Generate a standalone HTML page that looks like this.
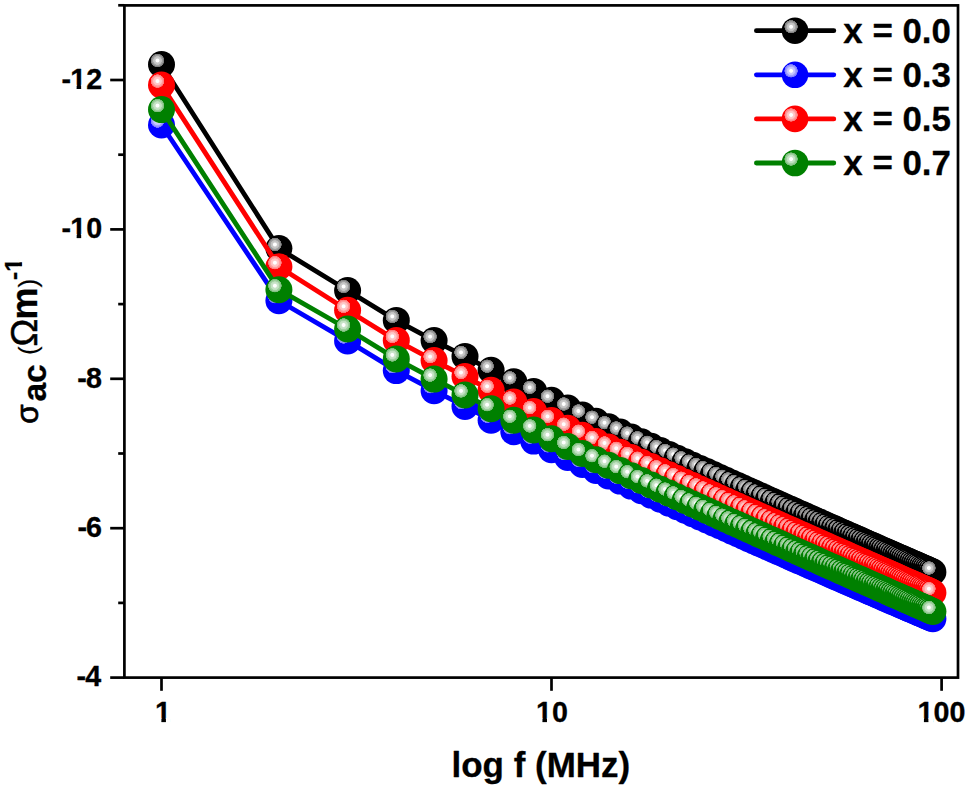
<!DOCTYPE html>
<html lang="en"><head><meta charset="utf-8"><title>AC conductivity vs log f</title>
<style>html,body{margin:0;padding:0;background:#fff}svg{display:block}text{font-family:"Liberation Sans",sans-serif;font-weight:bold;fill:#000;font-kerning:none}.rg{font-weight:normal}</style></head><body>
<svg width="968" height="790" viewBox="0 0 968 790">
<defs>
<radialGradient id="gk" cx="0.3519" cy="0.3519" r="0.2537" fx="0.3519" fy="0.3519"><stop offset="0" stop-color="#ffffff"/><stop offset="0.22" stop-color="#ffffff"/><stop offset="0.34" stop-color="#cccccc"/><stop offset="0.6" stop-color="#bfbfbf"/><stop offset="0.65" stop-color="#a3a3a3"/><stop offset="0.8" stop-color="#999999"/><stop offset="0.85" stop-color="#858585"/><stop offset="0.96" stop-color="#787878"/><stop offset="1.0" stop-color="#000000"/></radialGradient>
<radialGradient id="gb" cx="0.3519" cy="0.3519" r="0.2537" fx="0.3519" fy="0.3519"><stop offset="0" stop-color="#ffffff"/><stop offset="0.22" stop-color="#ffffff"/><stop offset="0.34" stop-color="#ccccff"/><stop offset="0.6" stop-color="#bfbfff"/><stop offset="0.65" stop-color="#a3a3ff"/><stop offset="0.8" stop-color="#9999ff"/><stop offset="0.85" stop-color="#8585ff"/><stop offset="0.96" stop-color="#7878ff"/><stop offset="1.0" stop-color="#0000ff"/></radialGradient>
<radialGradient id="gr" cx="0.3519" cy="0.3519" r="0.2537" fx="0.3519" fy="0.3519"><stop offset="0" stop-color="#ffffff"/><stop offset="0.22" stop-color="#ffffff"/><stop offset="0.34" stop-color="#ffcccc"/><stop offset="0.6" stop-color="#ffbfbf"/><stop offset="0.65" stop-color="#ffa3a3"/><stop offset="0.8" stop-color="#ff9999"/><stop offset="0.85" stop-color="#ff8585"/><stop offset="0.96" stop-color="#ff7878"/><stop offset="1.0" stop-color="#ff0000"/></radialGradient>
<radialGradient id="gg" cx="0.3519" cy="0.3519" r="0.2537" fx="0.3519" fy="0.3519"><stop offset="0" stop-color="#ffffff"/><stop offset="0.22" stop-color="#ffffff"/><stop offset="0.34" stop-color="#cce6cc"/><stop offset="0.6" stop-color="#bfdfbf"/><stop offset="0.65" stop-color="#a3d1a3"/><stop offset="0.8" stop-color="#99cc99"/><stop offset="0.85" stop-color="#85c285"/><stop offset="0.96" stop-color="#78bc78"/><stop offset="1.0" stop-color="#008000"/></radialGradient>
</defs>
<rect width="968" height="790" fill="#ffffff"/>
<g id="series-k">
<polyline fill="none" stroke="#000000" stroke-width="4.8" stroke-linejoin="round" points="161.5,64.5 278.9,248.5 347.6,290.5 396.3,320.4 434.1,340.6 465.0,356.4 491.1,370.2 513.8,381.8 533.7,391.4 551.5,400.2 567.7,408.0 582.4,415.0 596.0,421.2 608.5,426.7 620.2,432.0 631.2,437.1 641.4,441.8 651.1,446.3 660.3,450.5 669.0,454.4 677.2,458.2 685.1,461.8 692.6,465.2 699.9,468.5 706.8,471.6 713.4,474.6 719.8,477.5 726.0,480.3 731.9,483.0 737.7,485.6 743.2,488.1 748.6,490.5 753.8,492.8 758.9,495.1 763.8,497.3 768.5,499.4 773.2,501.5 777.7,503.5 782.1,505.5 786.4,507.4 790.6,509.3 794.6,511.1 798.6,512.9 802.5,514.6 806.3,516.3 810.1,518.0 813.7,519.6 817.3,521.2 820.8,522.7 824.2,524.2 827.5,525.7 830.8,527.2 834.1,528.6 837.2,530.0 840.3,531.4 843.4,532.7 846.4,534.1 849.3,535.4 852.2,536.6 855.1,537.9 857.9,539.1 860.6,540.3 863.3,541.5 866.0,542.7 868.6,543.9 871.2,545.0 873.8,546.1 876.3,547.2 878.7,548.3 881.2,549.4 883.6,550.4 886.0,551.5 888.3,552.5 890.6,553.5 892.9,554.5 895.1,555.5 897.3,556.4 899.5,557.4 901.7,558.3 903.8,559.3 905.9,560.2 908.0,561.1 910.0,562.0 912.1,562.9 914.1,563.8 916.1,564.6 918.0,565.5 919.9,566.3 921.9,567.2 923.8,568.0 925.6,568.8 927.5,569.6 929.3,570.4 931.1,571.2 932.9,572.0"/>
<circle cx="161.5" cy="64.5" r="13.5" fill="url(#gk)"/>
<circle cx="278.9" cy="248.5" r="13.5" fill="url(#gk)"/>
<circle cx="347.6" cy="290.5" r="13.5" fill="url(#gk)"/>
<circle cx="396.3" cy="320.4" r="13.5" fill="url(#gk)"/>
<circle cx="434.1" cy="340.6" r="13.5" fill="url(#gk)"/>
<circle cx="465.0" cy="356.4" r="13.5" fill="url(#gk)"/>
<circle cx="491.1" cy="370.2" r="13.5" fill="url(#gk)"/>
<circle cx="513.8" cy="381.8" r="13.5" fill="url(#gk)"/>
<circle cx="533.7" cy="391.4" r="13.5" fill="url(#gk)"/>
<circle cx="551.5" cy="400.2" r="13.5" fill="url(#gk)"/>
<circle cx="567.7" cy="408.0" r="13.5" fill="url(#gk)"/>
<circle cx="582.4" cy="415.0" r="13.5" fill="url(#gk)"/>
<circle cx="596.0" cy="421.2" r="13.5" fill="url(#gk)"/>
<circle cx="608.5" cy="426.7" r="13.5" fill="url(#gk)"/>
<circle cx="620.2" cy="432.0" r="13.5" fill="url(#gk)"/>
<circle cx="631.2" cy="437.1" r="13.5" fill="url(#gk)"/>
<circle cx="641.4" cy="441.8" r="13.5" fill="url(#gk)"/>
<circle cx="651.1" cy="446.3" r="13.5" fill="url(#gk)"/>
<circle cx="660.3" cy="450.5" r="13.5" fill="url(#gk)"/>
<circle cx="669.0" cy="454.4" r="13.5" fill="url(#gk)"/>
<circle cx="677.2" cy="458.2" r="13.5" fill="url(#gk)"/>
<circle cx="685.1" cy="461.8" r="13.5" fill="url(#gk)"/>
<circle cx="692.6" cy="465.2" r="13.5" fill="url(#gk)"/>
<circle cx="699.9" cy="468.5" r="13.5" fill="url(#gk)"/>
<circle cx="706.8" cy="471.6" r="13.5" fill="url(#gk)"/>
<circle cx="713.4" cy="474.6" r="13.5" fill="url(#gk)"/>
<circle cx="719.8" cy="477.5" r="13.5" fill="url(#gk)"/>
<circle cx="726.0" cy="480.3" r="13.5" fill="url(#gk)"/>
<circle cx="731.9" cy="483.0" r="13.5" fill="url(#gk)"/>
<circle cx="737.7" cy="485.6" r="13.5" fill="url(#gk)"/>
<circle cx="743.2" cy="488.1" r="13.5" fill="url(#gk)"/>
<circle cx="748.6" cy="490.5" r="13.5" fill="url(#gk)"/>
<circle cx="753.8" cy="492.8" r="13.5" fill="url(#gk)"/>
<circle cx="758.9" cy="495.1" r="13.5" fill="url(#gk)"/>
<circle cx="763.8" cy="497.3" r="13.5" fill="url(#gk)"/>
<circle cx="768.5" cy="499.4" r="13.5" fill="url(#gk)"/>
<circle cx="773.2" cy="501.5" r="13.5" fill="url(#gk)"/>
<circle cx="777.7" cy="503.5" r="13.5" fill="url(#gk)"/>
<circle cx="782.1" cy="505.5" r="13.5" fill="url(#gk)"/>
<circle cx="786.4" cy="507.4" r="13.5" fill="url(#gk)"/>
<circle cx="790.6" cy="509.3" r="13.5" fill="url(#gk)"/>
<circle cx="794.6" cy="511.1" r="13.5" fill="url(#gk)"/>
<circle cx="798.6" cy="512.9" r="13.5" fill="url(#gk)"/>
<circle cx="802.5" cy="514.6" r="13.5" fill="url(#gk)"/>
<circle cx="806.3" cy="516.3" r="13.5" fill="url(#gk)"/>
<circle cx="810.1" cy="518.0" r="13.5" fill="url(#gk)"/>
<circle cx="813.7" cy="519.6" r="13.5" fill="url(#gk)"/>
<circle cx="817.3" cy="521.2" r="13.5" fill="url(#gk)"/>
<circle cx="820.8" cy="522.7" r="13.5" fill="url(#gk)"/>
<circle cx="824.2" cy="524.2" r="13.5" fill="url(#gk)"/>
<circle cx="827.5" cy="525.7" r="13.5" fill="url(#gk)"/>
<circle cx="830.8" cy="527.2" r="13.5" fill="url(#gk)"/>
<circle cx="834.1" cy="528.6" r="13.5" fill="url(#gk)"/>
<circle cx="837.2" cy="530.0" r="13.5" fill="url(#gk)"/>
<circle cx="840.3" cy="531.4" r="13.5" fill="url(#gk)"/>
<circle cx="843.4" cy="532.7" r="13.5" fill="url(#gk)"/>
<circle cx="846.4" cy="534.1" r="13.5" fill="url(#gk)"/>
<circle cx="849.3" cy="535.4" r="13.5" fill="url(#gk)"/>
<circle cx="852.2" cy="536.6" r="13.5" fill="url(#gk)"/>
<circle cx="855.1" cy="537.9" r="13.5" fill="url(#gk)"/>
<circle cx="857.9" cy="539.1" r="13.5" fill="url(#gk)"/>
<circle cx="860.6" cy="540.3" r="13.5" fill="url(#gk)"/>
<circle cx="863.3" cy="541.5" r="13.5" fill="url(#gk)"/>
<circle cx="866.0" cy="542.7" r="13.5" fill="url(#gk)"/>
<circle cx="868.6" cy="543.9" r="13.5" fill="url(#gk)"/>
<circle cx="871.2" cy="545.0" r="13.5" fill="url(#gk)"/>
<circle cx="873.8" cy="546.1" r="13.5" fill="url(#gk)"/>
<circle cx="876.3" cy="547.2" r="13.5" fill="url(#gk)"/>
<circle cx="878.7" cy="548.3" r="13.5" fill="url(#gk)"/>
<circle cx="881.2" cy="549.4" r="13.5" fill="url(#gk)"/>
<circle cx="883.6" cy="550.4" r="13.5" fill="url(#gk)"/>
<circle cx="886.0" cy="551.5" r="13.5" fill="url(#gk)"/>
<circle cx="888.3" cy="552.5" r="13.5" fill="url(#gk)"/>
<circle cx="890.6" cy="553.5" r="13.5" fill="url(#gk)"/>
<circle cx="892.9" cy="554.5" r="13.5" fill="url(#gk)"/>
<circle cx="895.1" cy="555.5" r="13.5" fill="url(#gk)"/>
<circle cx="897.3" cy="556.4" r="13.5" fill="url(#gk)"/>
<circle cx="899.5" cy="557.4" r="13.5" fill="url(#gk)"/>
<circle cx="901.7" cy="558.3" r="13.5" fill="url(#gk)"/>
<circle cx="903.8" cy="559.3" r="13.5" fill="url(#gk)"/>
<circle cx="905.9" cy="560.2" r="13.5" fill="url(#gk)"/>
<circle cx="908.0" cy="561.1" r="13.5" fill="url(#gk)"/>
<circle cx="910.0" cy="562.0" r="13.5" fill="url(#gk)"/>
<circle cx="912.1" cy="562.9" r="13.5" fill="url(#gk)"/>
<circle cx="914.1" cy="563.8" r="13.5" fill="url(#gk)"/>
<circle cx="916.1" cy="564.6" r="13.5" fill="url(#gk)"/>
<circle cx="918.0" cy="565.5" r="13.5" fill="url(#gk)"/>
<circle cx="919.9" cy="566.3" r="13.5" fill="url(#gk)"/>
<circle cx="921.9" cy="567.2" r="13.5" fill="url(#gk)"/>
<circle cx="923.8" cy="568.0" r="13.5" fill="url(#gk)"/>
<circle cx="925.6" cy="568.8" r="13.5" fill="url(#gk)"/>
<circle cx="927.5" cy="569.6" r="13.5" fill="url(#gk)"/>
<circle cx="929.3" cy="570.4" r="13.5" fill="url(#gk)"/>
<circle cx="931.1" cy="571.2" r="13.5" fill="url(#gk)"/>
<circle cx="932.9" cy="572.0" r="13.5" fill="url(#gk)"/>
</g>
<g id="series-b">
<polyline fill="none" stroke="#0000ff" stroke-width="4.8" stroke-linejoin="round" points="161.5,125.0 278.9,300.7 347.6,340.9 396.3,370.6 434.1,390.7 465.0,406.4 491.1,420.2 513.8,431.7 533.7,441.1 551.5,449.8 567.7,457.5 582.4,464.4 596.0,470.5 608.5,475.9 620.2,481.1 631.2,486.1 641.4,490.7 651.1,495.1 660.3,499.2 669.0,503.1 677.2,506.8 685.1,510.3 692.6,513.7 699.9,516.9 706.8,520.0 713.4,523.0 719.8,525.8 726.0,528.5 731.9,531.2 737.7,533.7 743.2,536.2 748.6,538.6 753.8,540.9 758.9,543.1 763.8,545.3 768.5,547.4 773.2,549.4 777.7,551.4 782.1,553.3 786.4,555.2 790.6,557.1 794.6,558.9 798.6,560.6 802.5,562.3 806.3,564.0 810.1,565.6 813.7,567.2 817.3,568.8 820.8,570.3 824.2,571.8 827.5,573.3 830.8,574.7 834.1,576.1 837.2,577.5 840.3,578.8 843.4,580.2 846.4,581.5 849.3,582.7 852.2,584.0 855.1,585.2 857.9,586.4 860.6,587.6 863.3,588.8 866.0,590.0 868.6,591.1 871.2,592.2 873.8,593.3 876.3,594.4 878.7,595.5 881.2,596.5 883.6,597.6 886.0,598.6 888.3,599.6 890.6,600.6 892.9,601.6 895.1,602.5 897.3,603.5 899.5,604.4 901.7,605.4 903.8,606.3 905.9,607.2 908.0,608.1 910.0,609.0 912.1,609.8 914.1,610.7 916.1,611.5 918.0,612.4 919.9,613.2 921.9,614.0 923.8,614.8 925.6,615.6 927.5,616.4 929.3,617.2 931.1,618.0 932.9,618.8"/>
<circle cx="161.5" cy="125.0" r="13.5" fill="url(#gb)"/>
<circle cx="278.9" cy="300.7" r="13.5" fill="url(#gb)"/>
<circle cx="347.6" cy="340.9" r="13.5" fill="url(#gb)"/>
<circle cx="396.3" cy="370.6" r="13.5" fill="url(#gb)"/>
<circle cx="434.1" cy="390.7" r="13.5" fill="url(#gb)"/>
<circle cx="465.0" cy="406.4" r="13.5" fill="url(#gb)"/>
<circle cx="491.1" cy="420.2" r="13.5" fill="url(#gb)"/>
<circle cx="513.8" cy="431.7" r="13.5" fill="url(#gb)"/>
<circle cx="533.7" cy="441.1" r="13.5" fill="url(#gb)"/>
<circle cx="551.5" cy="449.8" r="13.5" fill="url(#gb)"/>
<circle cx="567.7" cy="457.5" r="13.5" fill="url(#gb)"/>
<circle cx="582.4" cy="464.4" r="13.5" fill="url(#gb)"/>
<circle cx="596.0" cy="470.5" r="13.5" fill="url(#gb)"/>
<circle cx="608.5" cy="475.9" r="13.5" fill="url(#gb)"/>
<circle cx="620.2" cy="481.1" r="13.5" fill="url(#gb)"/>
<circle cx="631.2" cy="486.1" r="13.5" fill="url(#gb)"/>
<circle cx="641.4" cy="490.7" r="13.5" fill="url(#gb)"/>
<circle cx="651.1" cy="495.1" r="13.5" fill="url(#gb)"/>
<circle cx="660.3" cy="499.2" r="13.5" fill="url(#gb)"/>
<circle cx="669.0" cy="503.1" r="13.5" fill="url(#gb)"/>
<circle cx="677.2" cy="506.8" r="13.5" fill="url(#gb)"/>
<circle cx="685.1" cy="510.3" r="13.5" fill="url(#gb)"/>
<circle cx="692.6" cy="513.7" r="13.5" fill="url(#gb)"/>
<circle cx="699.9" cy="516.9" r="13.5" fill="url(#gb)"/>
<circle cx="706.8" cy="520.0" r="13.5" fill="url(#gb)"/>
<circle cx="713.4" cy="523.0" r="13.5" fill="url(#gb)"/>
<circle cx="719.8" cy="525.8" r="13.5" fill="url(#gb)"/>
<circle cx="726.0" cy="528.5" r="13.5" fill="url(#gb)"/>
<circle cx="731.9" cy="531.2" r="13.5" fill="url(#gb)"/>
<circle cx="737.7" cy="533.7" r="13.5" fill="url(#gb)"/>
<circle cx="743.2" cy="536.2" r="13.5" fill="url(#gb)"/>
<circle cx="748.6" cy="538.6" r="13.5" fill="url(#gb)"/>
<circle cx="753.8" cy="540.9" r="13.5" fill="url(#gb)"/>
<circle cx="758.9" cy="543.1" r="13.5" fill="url(#gb)"/>
<circle cx="763.8" cy="545.3" r="13.5" fill="url(#gb)"/>
<circle cx="768.5" cy="547.4" r="13.5" fill="url(#gb)"/>
<circle cx="773.2" cy="549.4" r="13.5" fill="url(#gb)"/>
<circle cx="777.7" cy="551.4" r="13.5" fill="url(#gb)"/>
<circle cx="782.1" cy="553.3" r="13.5" fill="url(#gb)"/>
<circle cx="786.4" cy="555.2" r="13.5" fill="url(#gb)"/>
<circle cx="790.6" cy="557.1" r="13.5" fill="url(#gb)"/>
<circle cx="794.6" cy="558.9" r="13.5" fill="url(#gb)"/>
<circle cx="798.6" cy="560.6" r="13.5" fill="url(#gb)"/>
<circle cx="802.5" cy="562.3" r="13.5" fill="url(#gb)"/>
<circle cx="806.3" cy="564.0" r="13.5" fill="url(#gb)"/>
<circle cx="810.1" cy="565.6" r="13.5" fill="url(#gb)"/>
<circle cx="813.7" cy="567.2" r="13.5" fill="url(#gb)"/>
<circle cx="817.3" cy="568.8" r="13.5" fill="url(#gb)"/>
<circle cx="820.8" cy="570.3" r="13.5" fill="url(#gb)"/>
<circle cx="824.2" cy="571.8" r="13.5" fill="url(#gb)"/>
<circle cx="827.5" cy="573.3" r="13.5" fill="url(#gb)"/>
<circle cx="830.8" cy="574.7" r="13.5" fill="url(#gb)"/>
<circle cx="834.1" cy="576.1" r="13.5" fill="url(#gb)"/>
<circle cx="837.2" cy="577.5" r="13.5" fill="url(#gb)"/>
<circle cx="840.3" cy="578.8" r="13.5" fill="url(#gb)"/>
<circle cx="843.4" cy="580.2" r="13.5" fill="url(#gb)"/>
<circle cx="846.4" cy="581.5" r="13.5" fill="url(#gb)"/>
<circle cx="849.3" cy="582.7" r="13.5" fill="url(#gb)"/>
<circle cx="852.2" cy="584.0" r="13.5" fill="url(#gb)"/>
<circle cx="855.1" cy="585.2" r="13.5" fill="url(#gb)"/>
<circle cx="857.9" cy="586.4" r="13.5" fill="url(#gb)"/>
<circle cx="860.6" cy="587.6" r="13.5" fill="url(#gb)"/>
<circle cx="863.3" cy="588.8" r="13.5" fill="url(#gb)"/>
<circle cx="866.0" cy="590.0" r="13.5" fill="url(#gb)"/>
<circle cx="868.6" cy="591.1" r="13.5" fill="url(#gb)"/>
<circle cx="871.2" cy="592.2" r="13.5" fill="url(#gb)"/>
<circle cx="873.8" cy="593.3" r="13.5" fill="url(#gb)"/>
<circle cx="876.3" cy="594.4" r="13.5" fill="url(#gb)"/>
<circle cx="878.7" cy="595.5" r="13.5" fill="url(#gb)"/>
<circle cx="881.2" cy="596.5" r="13.5" fill="url(#gb)"/>
<circle cx="883.6" cy="597.6" r="13.5" fill="url(#gb)"/>
<circle cx="886.0" cy="598.6" r="13.5" fill="url(#gb)"/>
<circle cx="888.3" cy="599.6" r="13.5" fill="url(#gb)"/>
<circle cx="890.6" cy="600.6" r="13.5" fill="url(#gb)"/>
<circle cx="892.9" cy="601.6" r="13.5" fill="url(#gb)"/>
<circle cx="895.1" cy="602.5" r="13.5" fill="url(#gb)"/>
<circle cx="897.3" cy="603.5" r="13.5" fill="url(#gb)"/>
<circle cx="899.5" cy="604.4" r="13.5" fill="url(#gb)"/>
<circle cx="901.7" cy="605.4" r="13.5" fill="url(#gb)"/>
<circle cx="903.8" cy="606.3" r="13.5" fill="url(#gb)"/>
<circle cx="905.9" cy="607.2" r="13.5" fill="url(#gb)"/>
<circle cx="908.0" cy="608.1" r="13.5" fill="url(#gb)"/>
<circle cx="910.0" cy="609.0" r="13.5" fill="url(#gb)"/>
<circle cx="912.1" cy="609.8" r="13.5" fill="url(#gb)"/>
<circle cx="914.1" cy="610.7" r="13.5" fill="url(#gb)"/>
<circle cx="916.1" cy="611.5" r="13.5" fill="url(#gb)"/>
<circle cx="918.0" cy="612.4" r="13.5" fill="url(#gb)"/>
<circle cx="919.9" cy="613.2" r="13.5" fill="url(#gb)"/>
<circle cx="921.9" cy="614.0" r="13.5" fill="url(#gb)"/>
<circle cx="923.8" cy="614.8" r="13.5" fill="url(#gb)"/>
<circle cx="925.6" cy="615.6" r="13.5" fill="url(#gb)"/>
<circle cx="927.5" cy="616.4" r="13.5" fill="url(#gb)"/>
<circle cx="929.3" cy="617.2" r="13.5" fill="url(#gb)"/>
<circle cx="931.1" cy="618.0" r="13.5" fill="url(#gb)"/>
<circle cx="932.9" cy="618.8" r="13.5" fill="url(#gb)"/>
</g>
<g id="series-r">
<polyline fill="none" stroke="#ff0000" stroke-width="4.8" stroke-linejoin="round" points="161.5,85.1 278.9,266.7 347.6,310.3 396.3,340.4 434.1,360.6 465.0,376.5 491.1,390.3 513.8,402.0 533.7,411.6 551.5,420.4 567.7,428.2 582.4,435.2 596.0,441.5 608.5,447.0 620.2,452.3 631.2,457.4 641.4,462.2 651.1,466.6 660.3,470.8 669.0,474.8 677.2,478.6 685.1,482.2 692.6,485.6 699.9,488.9 706.8,492.0 713.4,495.0 719.8,497.9 726.0,500.7 731.9,503.4 737.7,506.0 743.2,508.5 748.6,510.9 753.8,513.3 758.9,515.6 763.8,517.8 768.5,519.9 773.2,522.0 777.7,524.0 782.1,526.0 786.4,527.9 790.6,529.8 794.6,531.6 798.6,533.4 802.5,535.1 806.3,536.8 810.1,538.5 813.7,540.1 817.3,541.7 820.8,543.3 824.2,544.8 827.5,546.3 830.8,547.7 834.1,549.2 837.2,550.6 840.3,552.0 843.4,553.3 846.4,554.6 849.3,555.9 852.2,557.2 855.1,558.5 857.9,559.7 860.6,560.9 863.3,562.1 866.0,563.3 868.6,564.5 871.2,565.6 873.8,566.7 876.3,567.8 878.7,568.9 881.2,570.0 883.6,571.1 886.0,572.1 888.3,573.1 890.6,574.1 892.9,575.1 895.1,576.1 897.3,577.1 899.5,578.1 901.7,579.0 903.8,579.9 905.9,580.9 908.0,581.8 910.0,582.7 912.1,583.6 914.1,584.4 916.1,585.3 918.0,586.2 919.9,587.0 921.9,587.8 923.8,588.7 925.6,589.5 927.5,590.3 929.3,591.1 931.1,591.9 932.9,592.7"/>
<circle cx="161.5" cy="85.1" r="13.5" fill="url(#gr)"/>
<circle cx="278.9" cy="266.7" r="13.5" fill="url(#gr)"/>
<circle cx="347.6" cy="310.3" r="13.5" fill="url(#gr)"/>
<circle cx="396.3" cy="340.4" r="13.5" fill="url(#gr)"/>
<circle cx="434.1" cy="360.6" r="13.5" fill="url(#gr)"/>
<circle cx="465.0" cy="376.5" r="13.5" fill="url(#gr)"/>
<circle cx="491.1" cy="390.3" r="13.5" fill="url(#gr)"/>
<circle cx="513.8" cy="402.0" r="13.5" fill="url(#gr)"/>
<circle cx="533.7" cy="411.6" r="13.5" fill="url(#gr)"/>
<circle cx="551.5" cy="420.4" r="13.5" fill="url(#gr)"/>
<circle cx="567.7" cy="428.2" r="13.5" fill="url(#gr)"/>
<circle cx="582.4" cy="435.2" r="13.5" fill="url(#gr)"/>
<circle cx="596.0" cy="441.5" r="13.5" fill="url(#gr)"/>
<circle cx="608.5" cy="447.0" r="13.5" fill="url(#gr)"/>
<circle cx="620.2" cy="452.3" r="13.5" fill="url(#gr)"/>
<circle cx="631.2" cy="457.4" r="13.5" fill="url(#gr)"/>
<circle cx="641.4" cy="462.2" r="13.5" fill="url(#gr)"/>
<circle cx="651.1" cy="466.6" r="13.5" fill="url(#gr)"/>
<circle cx="660.3" cy="470.8" r="13.5" fill="url(#gr)"/>
<circle cx="669.0" cy="474.8" r="13.5" fill="url(#gr)"/>
<circle cx="677.2" cy="478.6" r="13.5" fill="url(#gr)"/>
<circle cx="685.1" cy="482.2" r="13.5" fill="url(#gr)"/>
<circle cx="692.6" cy="485.6" r="13.5" fill="url(#gr)"/>
<circle cx="699.9" cy="488.9" r="13.5" fill="url(#gr)"/>
<circle cx="706.8" cy="492.0" r="13.5" fill="url(#gr)"/>
<circle cx="713.4" cy="495.0" r="13.5" fill="url(#gr)"/>
<circle cx="719.8" cy="497.9" r="13.5" fill="url(#gr)"/>
<circle cx="726.0" cy="500.7" r="13.5" fill="url(#gr)"/>
<circle cx="731.9" cy="503.4" r="13.5" fill="url(#gr)"/>
<circle cx="737.7" cy="506.0" r="13.5" fill="url(#gr)"/>
<circle cx="743.2" cy="508.5" r="13.5" fill="url(#gr)"/>
<circle cx="748.6" cy="510.9" r="13.5" fill="url(#gr)"/>
<circle cx="753.8" cy="513.3" r="13.5" fill="url(#gr)"/>
<circle cx="758.9" cy="515.6" r="13.5" fill="url(#gr)"/>
<circle cx="763.8" cy="517.8" r="13.5" fill="url(#gr)"/>
<circle cx="768.5" cy="519.9" r="13.5" fill="url(#gr)"/>
<circle cx="773.2" cy="522.0" r="13.5" fill="url(#gr)"/>
<circle cx="777.7" cy="524.0" r="13.5" fill="url(#gr)"/>
<circle cx="782.1" cy="526.0" r="13.5" fill="url(#gr)"/>
<circle cx="786.4" cy="527.9" r="13.5" fill="url(#gr)"/>
<circle cx="790.6" cy="529.8" r="13.5" fill="url(#gr)"/>
<circle cx="794.6" cy="531.6" r="13.5" fill="url(#gr)"/>
<circle cx="798.6" cy="533.4" r="13.5" fill="url(#gr)"/>
<circle cx="802.5" cy="535.1" r="13.5" fill="url(#gr)"/>
<circle cx="806.3" cy="536.8" r="13.5" fill="url(#gr)"/>
<circle cx="810.1" cy="538.5" r="13.5" fill="url(#gr)"/>
<circle cx="813.7" cy="540.1" r="13.5" fill="url(#gr)"/>
<circle cx="817.3" cy="541.7" r="13.5" fill="url(#gr)"/>
<circle cx="820.8" cy="543.3" r="13.5" fill="url(#gr)"/>
<circle cx="824.2" cy="544.8" r="13.5" fill="url(#gr)"/>
<circle cx="827.5" cy="546.3" r="13.5" fill="url(#gr)"/>
<circle cx="830.8" cy="547.7" r="13.5" fill="url(#gr)"/>
<circle cx="834.1" cy="549.2" r="13.5" fill="url(#gr)"/>
<circle cx="837.2" cy="550.6" r="13.5" fill="url(#gr)"/>
<circle cx="840.3" cy="552.0" r="13.5" fill="url(#gr)"/>
<circle cx="843.4" cy="553.3" r="13.5" fill="url(#gr)"/>
<circle cx="846.4" cy="554.6" r="13.5" fill="url(#gr)"/>
<circle cx="849.3" cy="555.9" r="13.5" fill="url(#gr)"/>
<circle cx="852.2" cy="557.2" r="13.5" fill="url(#gr)"/>
<circle cx="855.1" cy="558.5" r="13.5" fill="url(#gr)"/>
<circle cx="857.9" cy="559.7" r="13.5" fill="url(#gr)"/>
<circle cx="860.6" cy="560.9" r="13.5" fill="url(#gr)"/>
<circle cx="863.3" cy="562.1" r="13.5" fill="url(#gr)"/>
<circle cx="866.0" cy="563.3" r="13.5" fill="url(#gr)"/>
<circle cx="868.6" cy="564.5" r="13.5" fill="url(#gr)"/>
<circle cx="871.2" cy="565.6" r="13.5" fill="url(#gr)"/>
<circle cx="873.8" cy="566.7" r="13.5" fill="url(#gr)"/>
<circle cx="876.3" cy="567.8" r="13.5" fill="url(#gr)"/>
<circle cx="878.7" cy="568.9" r="13.5" fill="url(#gr)"/>
<circle cx="881.2" cy="570.0" r="13.5" fill="url(#gr)"/>
<circle cx="883.6" cy="571.1" r="13.5" fill="url(#gr)"/>
<circle cx="886.0" cy="572.1" r="13.5" fill="url(#gr)"/>
<circle cx="888.3" cy="573.1" r="13.5" fill="url(#gr)"/>
<circle cx="890.6" cy="574.1" r="13.5" fill="url(#gr)"/>
<circle cx="892.9" cy="575.1" r="13.5" fill="url(#gr)"/>
<circle cx="895.1" cy="576.1" r="13.5" fill="url(#gr)"/>
<circle cx="897.3" cy="577.1" r="13.5" fill="url(#gr)"/>
<circle cx="899.5" cy="578.1" r="13.5" fill="url(#gr)"/>
<circle cx="901.7" cy="579.0" r="13.5" fill="url(#gr)"/>
<circle cx="903.8" cy="579.9" r="13.5" fill="url(#gr)"/>
<circle cx="905.9" cy="580.9" r="13.5" fill="url(#gr)"/>
<circle cx="908.0" cy="581.8" r="13.5" fill="url(#gr)"/>
<circle cx="910.0" cy="582.7" r="13.5" fill="url(#gr)"/>
<circle cx="912.1" cy="583.6" r="13.5" fill="url(#gr)"/>
<circle cx="914.1" cy="584.4" r="13.5" fill="url(#gr)"/>
<circle cx="916.1" cy="585.3" r="13.5" fill="url(#gr)"/>
<circle cx="918.0" cy="586.2" r="13.5" fill="url(#gr)"/>
<circle cx="919.9" cy="587.0" r="13.5" fill="url(#gr)"/>
<circle cx="921.9" cy="587.8" r="13.5" fill="url(#gr)"/>
<circle cx="923.8" cy="588.7" r="13.5" fill="url(#gr)"/>
<circle cx="925.6" cy="589.5" r="13.5" fill="url(#gr)"/>
<circle cx="927.5" cy="590.3" r="13.5" fill="url(#gr)"/>
<circle cx="929.3" cy="591.1" r="13.5" fill="url(#gr)"/>
<circle cx="931.1" cy="591.9" r="13.5" fill="url(#gr)"/>
<circle cx="932.9" cy="592.7" r="13.5" fill="url(#gr)"/>
</g>
<g id="series-g">
<polyline fill="none" stroke="#008000" stroke-width="4.8" stroke-linejoin="round" points="161.5,109.6 278.9,289.7 347.6,329.0 396.3,358.9 434.1,379.1 465.0,394.9 491.1,408.7 513.8,420.3 533.7,429.9 551.5,438.7 567.7,446.5 582.4,453.5 596.0,459.7 608.5,465.2 620.2,470.6 631.2,475.7 641.4,480.5 651.1,484.9 660.3,489.2 669.0,493.1 677.2,496.9 685.1,500.5 692.6,504.0 699.9,507.3 706.8,510.4 713.4,513.5 719.8,516.4 726.0,519.2 731.9,521.9 737.7,524.5 743.2,527.0 748.6,529.4 753.8,531.8 758.9,534.1 763.8,536.3 768.5,538.4 773.2,540.5 777.7,542.6 782.1,544.5 786.4,546.5 790.6,548.4 794.6,550.2 798.6,552.0 802.5,553.7 806.3,555.4 810.1,557.1 813.7,558.7 817.3,560.3 820.8,561.9 824.2,563.4 827.5,564.9 830.8,566.4 834.1,567.8 837.2,569.2 840.3,570.6 843.4,572.0 846.4,573.3 849.3,574.6 852.2,575.9 855.1,577.2 857.9,578.4 860.6,579.6 863.3,580.8 866.0,582.0 868.6,583.2 871.2,584.3 873.8,585.4 876.3,586.5 878.7,587.6 881.2,588.7 883.6,589.8 886.0,590.8 888.3,591.9 890.6,592.9 892.9,593.9 895.1,594.9 897.3,595.8 899.5,596.8 901.7,597.8 903.8,598.7 905.9,599.6 908.0,600.5 910.0,601.4 912.1,602.3 914.1,603.2 916.1,604.1 918.0,604.9 919.9,605.8 921.9,606.6 923.8,607.5 925.6,608.3 927.5,609.1 929.3,609.9 931.1,610.7 932.9,611.5"/>
<circle cx="161.5" cy="109.6" r="13.5" fill="url(#gg)"/>
<circle cx="278.9" cy="289.7" r="13.5" fill="url(#gg)"/>
<circle cx="347.6" cy="329.0" r="13.5" fill="url(#gg)"/>
<circle cx="396.3" cy="358.9" r="13.5" fill="url(#gg)"/>
<circle cx="434.1" cy="379.1" r="13.5" fill="url(#gg)"/>
<circle cx="465.0" cy="394.9" r="13.5" fill="url(#gg)"/>
<circle cx="491.1" cy="408.7" r="13.5" fill="url(#gg)"/>
<circle cx="513.8" cy="420.3" r="13.5" fill="url(#gg)"/>
<circle cx="533.7" cy="429.9" r="13.5" fill="url(#gg)"/>
<circle cx="551.5" cy="438.7" r="13.5" fill="url(#gg)"/>
<circle cx="567.7" cy="446.5" r="13.5" fill="url(#gg)"/>
<circle cx="582.4" cy="453.5" r="13.5" fill="url(#gg)"/>
<circle cx="596.0" cy="459.7" r="13.5" fill="url(#gg)"/>
<circle cx="608.5" cy="465.2" r="13.5" fill="url(#gg)"/>
<circle cx="620.2" cy="470.6" r="13.5" fill="url(#gg)"/>
<circle cx="631.2" cy="475.7" r="13.5" fill="url(#gg)"/>
<circle cx="641.4" cy="480.5" r="13.5" fill="url(#gg)"/>
<circle cx="651.1" cy="484.9" r="13.5" fill="url(#gg)"/>
<circle cx="660.3" cy="489.2" r="13.5" fill="url(#gg)"/>
<circle cx="669.0" cy="493.1" r="13.5" fill="url(#gg)"/>
<circle cx="677.2" cy="496.9" r="13.5" fill="url(#gg)"/>
<circle cx="685.1" cy="500.5" r="13.5" fill="url(#gg)"/>
<circle cx="692.6" cy="504.0" r="13.5" fill="url(#gg)"/>
<circle cx="699.9" cy="507.3" r="13.5" fill="url(#gg)"/>
<circle cx="706.8" cy="510.4" r="13.5" fill="url(#gg)"/>
<circle cx="713.4" cy="513.5" r="13.5" fill="url(#gg)"/>
<circle cx="719.8" cy="516.4" r="13.5" fill="url(#gg)"/>
<circle cx="726.0" cy="519.2" r="13.5" fill="url(#gg)"/>
<circle cx="731.9" cy="521.9" r="13.5" fill="url(#gg)"/>
<circle cx="737.7" cy="524.5" r="13.5" fill="url(#gg)"/>
<circle cx="743.2" cy="527.0" r="13.5" fill="url(#gg)"/>
<circle cx="748.6" cy="529.4" r="13.5" fill="url(#gg)"/>
<circle cx="753.8" cy="531.8" r="13.5" fill="url(#gg)"/>
<circle cx="758.9" cy="534.1" r="13.5" fill="url(#gg)"/>
<circle cx="763.8" cy="536.3" r="13.5" fill="url(#gg)"/>
<circle cx="768.5" cy="538.4" r="13.5" fill="url(#gg)"/>
<circle cx="773.2" cy="540.5" r="13.5" fill="url(#gg)"/>
<circle cx="777.7" cy="542.6" r="13.5" fill="url(#gg)"/>
<circle cx="782.1" cy="544.5" r="13.5" fill="url(#gg)"/>
<circle cx="786.4" cy="546.5" r="13.5" fill="url(#gg)"/>
<circle cx="790.6" cy="548.4" r="13.5" fill="url(#gg)"/>
<circle cx="794.6" cy="550.2" r="13.5" fill="url(#gg)"/>
<circle cx="798.6" cy="552.0" r="13.5" fill="url(#gg)"/>
<circle cx="802.5" cy="553.7" r="13.5" fill="url(#gg)"/>
<circle cx="806.3" cy="555.4" r="13.5" fill="url(#gg)"/>
<circle cx="810.1" cy="557.1" r="13.5" fill="url(#gg)"/>
<circle cx="813.7" cy="558.7" r="13.5" fill="url(#gg)"/>
<circle cx="817.3" cy="560.3" r="13.5" fill="url(#gg)"/>
<circle cx="820.8" cy="561.9" r="13.5" fill="url(#gg)"/>
<circle cx="824.2" cy="563.4" r="13.5" fill="url(#gg)"/>
<circle cx="827.5" cy="564.9" r="13.5" fill="url(#gg)"/>
<circle cx="830.8" cy="566.4" r="13.5" fill="url(#gg)"/>
<circle cx="834.1" cy="567.8" r="13.5" fill="url(#gg)"/>
<circle cx="837.2" cy="569.2" r="13.5" fill="url(#gg)"/>
<circle cx="840.3" cy="570.6" r="13.5" fill="url(#gg)"/>
<circle cx="843.4" cy="572.0" r="13.5" fill="url(#gg)"/>
<circle cx="846.4" cy="573.3" r="13.5" fill="url(#gg)"/>
<circle cx="849.3" cy="574.6" r="13.5" fill="url(#gg)"/>
<circle cx="852.2" cy="575.9" r="13.5" fill="url(#gg)"/>
<circle cx="855.1" cy="577.2" r="13.5" fill="url(#gg)"/>
<circle cx="857.9" cy="578.4" r="13.5" fill="url(#gg)"/>
<circle cx="860.6" cy="579.6" r="13.5" fill="url(#gg)"/>
<circle cx="863.3" cy="580.8" r="13.5" fill="url(#gg)"/>
<circle cx="866.0" cy="582.0" r="13.5" fill="url(#gg)"/>
<circle cx="868.6" cy="583.2" r="13.5" fill="url(#gg)"/>
<circle cx="871.2" cy="584.3" r="13.5" fill="url(#gg)"/>
<circle cx="873.8" cy="585.4" r="13.5" fill="url(#gg)"/>
<circle cx="876.3" cy="586.5" r="13.5" fill="url(#gg)"/>
<circle cx="878.7" cy="587.6" r="13.5" fill="url(#gg)"/>
<circle cx="881.2" cy="588.7" r="13.5" fill="url(#gg)"/>
<circle cx="883.6" cy="589.8" r="13.5" fill="url(#gg)"/>
<circle cx="886.0" cy="590.8" r="13.5" fill="url(#gg)"/>
<circle cx="888.3" cy="591.9" r="13.5" fill="url(#gg)"/>
<circle cx="890.6" cy="592.9" r="13.5" fill="url(#gg)"/>
<circle cx="892.9" cy="593.9" r="13.5" fill="url(#gg)"/>
<circle cx="895.1" cy="594.9" r="13.5" fill="url(#gg)"/>
<circle cx="897.3" cy="595.8" r="13.5" fill="url(#gg)"/>
<circle cx="899.5" cy="596.8" r="13.5" fill="url(#gg)"/>
<circle cx="901.7" cy="597.8" r="13.5" fill="url(#gg)"/>
<circle cx="903.8" cy="598.7" r="13.5" fill="url(#gg)"/>
<circle cx="905.9" cy="599.6" r="13.5" fill="url(#gg)"/>
<circle cx="908.0" cy="600.5" r="13.5" fill="url(#gg)"/>
<circle cx="910.0" cy="601.4" r="13.5" fill="url(#gg)"/>
<circle cx="912.1" cy="602.3" r="13.5" fill="url(#gg)"/>
<circle cx="914.1" cy="603.2" r="13.5" fill="url(#gg)"/>
<circle cx="916.1" cy="604.1" r="13.5" fill="url(#gg)"/>
<circle cx="918.0" cy="604.9" r="13.5" fill="url(#gg)"/>
<circle cx="919.9" cy="605.8" r="13.5" fill="url(#gg)"/>
<circle cx="921.9" cy="606.6" r="13.5" fill="url(#gg)"/>
<circle cx="923.8" cy="607.5" r="13.5" fill="url(#gg)"/>
<circle cx="925.6" cy="608.3" r="13.5" fill="url(#gg)"/>
<circle cx="927.5" cy="609.1" r="13.5" fill="url(#gg)"/>
<circle cx="929.3" cy="609.9" r="13.5" fill="url(#gg)"/>
<circle cx="931.1" cy="610.7" r="13.5" fill="url(#gg)"/>
<circle cx="932.9" cy="611.5" r="13.5" fill="url(#gg)"/>
</g>
<g stroke="#000" stroke-width="2.7" fill="none" stroke-linecap="butt">
<rect x="124.4" y="5.4" width="833.6" height="672.2"/>
<line x1="110.2" x2="124.4" y1="80.0" y2="80.0"/>
<line x1="110.2" x2="124.4" y1="229.4" y2="229.4"/>
<line x1="110.2" x2="124.4" y1="378.8" y2="378.8"/>
<line x1="110.2" x2="124.4" y1="528.2" y2="528.2"/>
<line x1="110.2" x2="124.4" y1="677.6" y2="677.6"/>
<line x1="118.2" x2="124.4" y1="5.3" y2="5.3"/>
<line x1="118.2" x2="124.4" y1="154.7" y2="154.7"/>
<line x1="118.2" x2="124.4" y1="304.1" y2="304.1"/>
<line x1="118.2" x2="124.4" y1="453.5" y2="453.5"/>
<line x1="118.2" x2="124.4" y1="602.9" y2="602.9"/>
<line x1="161.5" x2="161.5" y1="677.6" y2="690.8"/>
<line x1="551.5" x2="551.5" y1="677.6" y2="690.8"/>
<line x1="941.6" x2="941.6" y1="677.6" y2="690.8"/>
</g>
<clipPath id="c1"><rect x="-50" y="-130" width="244.5" height="115.8"/><rect x="55.7" y="-30" width="15.6" height="30.9"/><rect x="88.9" y="-30" width="105.6" height="80"/><rect x="-50" y="-30" width="83.8" height="80"/></clipPath>
<text transform="translate(60.67,88.85) scale(0.2870,0.2970)" x="3.1" font-size="100" stroke="#000" stroke-width="1.05" stroke-linejoin="round" clip-path="url(#c1)">-<tspan dx="-3.1">12</tspan></text>
<clipPath id="c2"><rect x="-50" y="-130" width="244.5" height="115.8"/><rect x="55.7" y="-30" width="15.6" height="30.9"/><rect x="88.9" y="-30" width="105.6" height="80"/><rect x="-50" y="-30" width="83.8" height="80"/></clipPath>
<text transform="translate(60.70,238.25) scale(0.2870,0.2970)" x="3.1" font-size="100" stroke="#000" stroke-width="1.05" stroke-linejoin="round" clip-path="url(#c2)">-<tspan dx="-3.1">10</tspan></text>
<text transform="translate(76.36,387.65) scale(0.2870,0.2970)" x="3.1" font-size="100" stroke="#000" stroke-width="1.05" stroke-linejoin="round">-<tspan dx="-3.1">8</tspan></text>
<text transform="translate(76.52,537.05) scale(0.2870,0.2970)" x="3.1" font-size="100" stroke="#000" stroke-width="1.05" stroke-linejoin="round">-<tspan dx="-3.1">6</tspan></text>
<text transform="translate(75.64,686.45) scale(0.2870,0.2970)" x="3.1" font-size="100" stroke="#000" stroke-width="1.05" stroke-linejoin="round">-<tspan dx="-3.1">4</tspan></text>
<clipPath id="c3"><rect x="-50" y="-130" width="155.6" height="115.8"/><rect x="22.4" y="-30" width="15.6" height="30.9"/><rect x="55.6" y="-30" width="50.0" height="80"/><rect x="-50" y="-30" width="50.5" height="80"/></clipPath>
<text transform="translate(155.00,722.20) scale(0.2870,0.2970)" font-size="100" stroke="#000" stroke-width="1.05" stroke-linejoin="round" clip-path="url(#c3)">1</text>
<clipPath id="c4"><rect x="-50" y="-130" width="211.2" height="115.8"/><rect x="22.4" y="-30" width="15.6" height="30.9"/><rect x="55.6" y="-30" width="105.6" height="80"/><rect x="-50" y="-30" width="50.5" height="80"/></clipPath>
<text transform="translate(536.05,722.20) scale(0.2870,0.2970)" font-size="100" stroke="#000" stroke-width="1.05" stroke-linejoin="round" clip-path="url(#c4)">10</text>
<clipPath id="c5"><rect x="-50" y="-130" width="266.8" height="115.8"/><rect x="22.4" y="-30" width="15.6" height="30.9"/><rect x="55.6" y="-30" width="161.2" height="80"/><rect x="-50" y="-30" width="50.5" height="80"/></clipPath>
<text transform="translate(917.50,722.20) scale(0.2870,0.2970)" font-size="100" stroke="#000" stroke-width="1.05" stroke-linejoin="round" clip-path="url(#c5)">100</text>
<text transform="translate(451.50,777.40) scale(0.3500,0.3430)" font-size="100" stroke="#000" stroke-width="0.86" stroke-linejoin="round">log f (MHz)</text>
<line x1="756.4" x2="833.8" y1="30.7" y2="30.7" stroke="#000000" stroke-width="4.8" stroke-linecap="round"/>
<circle cx="795.0" cy="30.7" r="13.3" fill="url(#gk)"/>
<text transform="translate(843.30,42.70) scale(0.3490,0.3490)" font-size="100" stroke="#000" stroke-width="0.86" stroke-linejoin="round">x = 0.0</text>
<line x1="756.4" x2="833.8" y1="74.8" y2="74.8" stroke="#0000ff" stroke-width="4.8" stroke-linecap="round"/>
<circle cx="795.0" cy="74.8" r="13.3" fill="url(#gb)"/>
<text transform="translate(843.30,86.80) scale(0.3490,0.3490)" font-size="100" stroke="#000" stroke-width="0.86" stroke-linejoin="round">x = 0.3</text>
<line x1="756.4" x2="833.8" y1="118.9" y2="118.9" stroke="#ff0000" stroke-width="4.8" stroke-linecap="round"/>
<circle cx="795.0" cy="118.9" r="13.3" fill="url(#gr)"/>
<text transform="translate(843.30,130.90) scale(0.3490,0.3490)" font-size="100" stroke="#000" stroke-width="0.86" stroke-linejoin="round">x = 0.5</text>
<line x1="756.4" x2="833.8" y1="163.0" y2="163.0" stroke="#008000" stroke-width="4.8" stroke-linecap="round"/>
<circle cx="795.0" cy="163.0" r="13.3" fill="url(#gg)"/>
<text transform="translate(843.30,175.00) scale(0.3490,0.3490)" font-size="100" stroke="#000" stroke-width="0.86" stroke-linejoin="round">x = 0.7</text>
<clipPath id="cy"><rect x="-800" y="-10" width="528.29" height="120"/><rect x="-272.71" y="-10" width="40" height="28.44"/><rect x="-266.28" y="17.44" width="3.99" height="4.96"/></clipPath>
<text transform="rotate(-90)" clip-path="url(#cy)"><tspan class="rg" x="-423.70" y="37.70" font-size="31.5" stroke="#000" stroke-width="0.7">σ</tspan><tspan x="-401.60" y="45.85" font-size="33.6" stroke="#000" stroke-width="0.3">ac</tspan> <tspan class="rg" x="-355.00" y="36.60" font-size="26" stroke="#000" stroke-width="0.2">(</tspan><tspan class="rg" x="-346.40" y="36.90" font-size="37.4" stroke="#000" stroke-width="0.5">Ω</tspan><tspan x="-319.50" y="36.70" font-size="36" stroke="#000" stroke-width="0.3">m</tspan><tspan class="rg" x="-287.50" y="36.60" font-size="26" stroke="#000" stroke-width="0.2">)</tspan><tspan x="-279.90" y="22.10" font-size="24.6" stroke="#000" stroke-width="0.3">-1</tspan></text>
</svg></body></html>
